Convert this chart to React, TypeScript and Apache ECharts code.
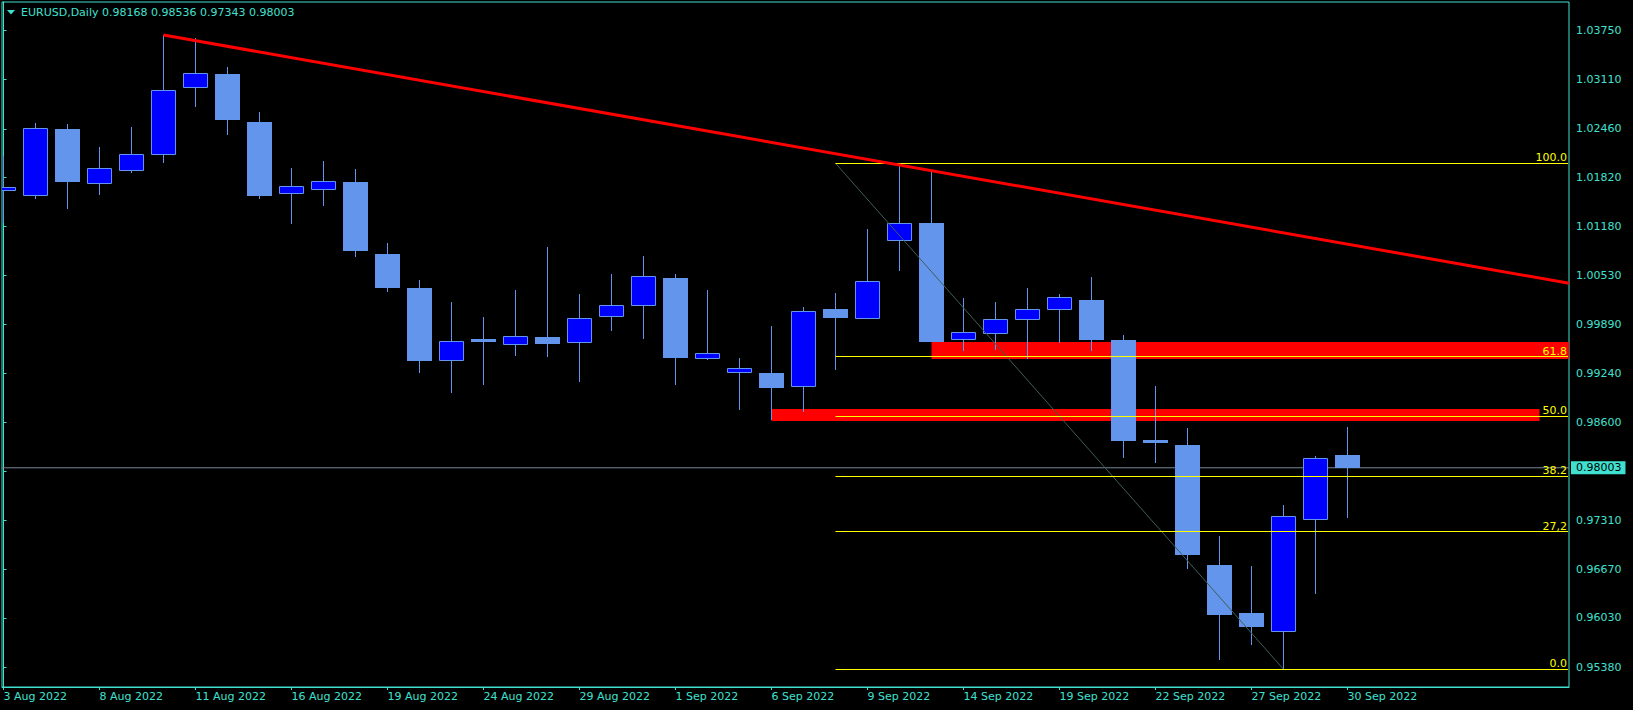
import React, { useEffect, useRef } from 'react';
import * as echarts from 'echarts';

// ---- data (one bar per trading day) ----
const dates = [
  '3 Aug', '4 Aug', '5 Aug', '8 Aug', '9 Aug', '10 Aug', '11 Aug', '12 Aug', '15 Aug', '16 Aug',
  '17 Aug', '18 Aug', '19 Aug', '22 Aug', '23 Aug', '24 Aug', '25 Aug', '26 Aug', '29 Aug', '30 Aug',
  '31 Aug', '1 Sep', '2 Sep', '5 Sep', '6 Sep', '7 Sep', '8 Sep', '9 Sep', '12 Sep', '13 Sep',
  '14 Sep', '15 Sep', '16 Sep', '19 Sep', '20 Sep', '21 Sep', '22 Sep', '23 Sep', '26 Sep', '27 Sep',
  '28 Sep', '29 Sep', '30 Sep',
];
const opens = [
  1.01646, 1.01581, 1.02458, 1.01738, 1.01909, 1.0212, 1.03001, 1.03181, 1.0255, 1.01599,
  1.01659, 1.01761, 1.00814, 1.00367, 0.99403, 0.99696, 0.99622, 0.99723, 0.99648, 0.99982,
  1.00134, 1.00498, 0.9943, 0.99253, 0.99249, 0.99061, 1.00091, 0.99956, 1.00981, 1.01222,
  0.99679, 0.99758, 0.99942, 1.00074, 1.00209, 0.99683, 0.98369, 0.98303, 0.96725, 0.96094,
  0.95848, 0.97313, 0.98168,
];
const highs = [
  1.02107, 1.02536, 1.02523, 1.02221, 1.02484, 1.03697, 1.0365, 1.03273, 1.02681, 1.01945,
  1.02037, 1.01932, 1.00959, 1.00472, 1.00183, 0.99986, 1.00341, 1.00906, 1.00288, 1.00551,
  1.00788, 1.00551, 1.00341, 0.99447, 0.99867, 1.00117, 1.00301, 1.01143, 1.01997, 1.01896,
  1.00232, 1.00183, 1.00367, 1.00288, 1.00512, 0.99749, 0.99079, 0.98526, 0.97106, 0.96712,
  0.97514, 0.98158, 0.98536,
];
const lows = [
  1.01226, 1.01537, 1.01406, 1.0159, 1.01883, 1.02015, 1.02751, 1.02383, 1.01537, 1.01212,
  1.01449, 1.00779, 1.00318, 0.99253, 0.9899, 0.99096, 0.99477, 0.99464, 0.99135, 0.99806,
  0.997, 0.99096, 0.9942, 0.98763, 0.98632, 0.98741, 0.99293, 0.99953, 1.00595, 0.99657,
  0.99543, 0.99556, 0.99438, 0.99648, 0.99543, 0.98128, 0.98066, 0.96676, 0.95476, 0.95677,
  0.95354, 0.96348, 0.97343,
];
const closes = [
  1.01691, 1.02471, 1.01761, 1.01941, 1.02125, 1.02966, 1.0319, 1.0258, 1.01581, 1.01708,
  1.01774, 1.00857, 1.00371, 0.99411, 0.99666, 0.99661, 0.99736, 0.99631, 0.99969, 1.0014,
  1.00521, 0.99447, 0.99509, 0.99311, 0.99056, 1.00061, 0.99977, 1.00455, 1.01218, 0.99661,
  0.99785, 0.99956, 1.00087, 1.00245, 0.99687, 0.98359, 0.98333, 0.9686, 0.96072, 0.95914,
  0.97365, 0.98128, 0.98003,
];
// tick marks on the price scale; the 0.97960 label sits under the current-price tag
const yTicks = [
  1.0375, 1.0311, 1.0246, 1.0182, 1.0118, 1.0053, 0.9989, 0.9924, 0.986, 0.9796, 0.9731,
  0.9667, 0.9603, 0.9538,
];
const yLabels = [
  1.0375, 1.0311, 1.0246, 1.0182, 1.0118, 1.0053, 0.9989, 0.9924, 0.986, 0.9731,
  0.9667, 0.9603, 0.9538,
];
const xTickBars = [0, 3, 6, 9, 12, 15, 18, 21, 24, 27, 30, 33, 36, 39, 42];
const fibLevels = [0, 27.2, 38.2, 50, 61.8, 100];
const fibLabels = ['0.0', '27,2', '38.2', '50.0', '61.8', '100.0'];
const fibAnchors = [[26, 1.02007], [40, 0.95354]];
const trendAnchors = [[5, 1.03693], [28, 1.01984]];
const zoneStarts = [29, 24];
const zoneEnds = [null, 48];
const zoneTops = [0.99657, 0.98776];
const zoneBottoms = [0.99434, 0.98618];

const SYMBOL = 'EURUSD,Daily';

// ---- view ----
const X_MIN = -0.047;
const X_MAX = 48.922;
const Y_MIN = 0.951209;
const Y_MAX = 1.041273;
const TURQ = '#40E0D0';
const FONT = 'DejaVu Sans';

export default function App() {
  const ref = useRef<HTMLDivElement>(null);

  useEffect(() => {
    if (!ref.current) return;
    const chart = echarts.init(ref.current, undefined, { renderer: 'svg' });

    const candleData = opens.map((o, i) => [i, o, closes[i], lows[i], highs[i]]);
    const last = closes.length - 1;
    const lastClose = closes[last];
    const fibLow = fibAnchors[1][1];
    const fibHigh = fibAnchors[0][1];
    const slope = (trendAnchors[1][1] - trendAnchors[0][1]) / (trendAnchors[1][0] - trendAnchors[0][0]);
    const trendEnd = trendAnchors[0][1] + slope * (X_MAX - trendAnchors[0][0]);

    const option: any = {
      animation: false,
      backgroundColor: '#000000',
      grid: {
        left: 2, top: 2, right: 64, bottom: 23,
        show: true, borderColor: TURQ, borderWidth: 1, backgroundColor: 'transparent',
      },
      xAxis: {
        type: 'value', min: X_MIN, max: X_MAX, position: 'bottom',
        axisLine: { show: true, lineStyle: { color: TURQ, width: 1 } },
        axisTick: { show: true, inside: false, length: 3, lineStyle: { color: TURQ }, customValues: xTickBars },
        axisLabel: {
          customValues: xTickBars,
          formatter: (v: number) => dates[Math.round(v)] + ' 2022',
          align: 'left', color: TURQ, fontFamily: FONT, fontSize: 11, margin: 4,
        },
        splitLine: { show: false },
      },
      yAxis: {
        type: 'value', min: Y_MIN, max: Y_MAX, position: 'right', scale: true,
        axisLine: { show: true, lineStyle: { color: TURQ, width: 1 } },
        axisTick: { show: true, inside: false, length: 3, lineStyle: { color: TURQ }, customValues: yTicks },
        axisLabel: {
          customValues: yLabels,
          formatter: (v: number) => v.toFixed(5),
          color: TURQ, fontFamily: FONT, fontSize: 11, margin: 7,
        },
        splitLine: { show: false },
      },
      graphic: [
        { type: 'polygon', shape: { points: [[7, 10], [15, 10], [11, 14.5]] }, style: { fill: TURQ } },
        { type: 'text', x: 21, y: 12, style: { text: SYMBOL, fill: TURQ, font: `11px "${FONT}"`, verticalAlign: 'middle' } },
        {
          type: 'text', x: 102, y: 12,
          style: {
            text: [opens[last], highs[last], lows[last], closes[last]].map((v) => v.toFixed(5)).join(' '),
            fill: TURQ, font: `11px "${FONT}"`, verticalAlign: 'middle',
          },
        },
      ],
      series: [
        {
          name: 'zones', type: 'line', data: [], z: 1, silent: true,
          markArea: {
            silent: true,
            itemStyle: { color: '#FF0000', opacity: 1 },
            data: zoneStarts.map((s, j) => [
              { coord: [s, zoneTops[j]] },
              { coord: [zoneEnds[j] === null ? X_MAX : zoneEnds[j], zoneBottoms[j]] },
            ]),
          },
        },
        {
          name: 'price', type: 'line', z: 2, silent: true, symbol: 'none',
          data: [[X_MIN, lastClose], [X_MAX, lastClose]],
          lineStyle: { color: '#778899', width: 1 },
          endLabel: {
            show: true, formatter: () => lastClose.toFixed(5),
            backgroundColor: TURQ, color: '#000000', fontFamily: FONT, fontSize: 11,
            padding: [1, 4, 1, 5], distance: 2,
          },
        },
        {
          name: 'candles', type: 'custom', z: 3, clip: true, silent: true,
          data: candleData,
          encode: { x: 0, y: [1, 2, 3, 4] },
          renderItem: (params: any, api: any) => {
            const i = api.value(0);
            const o = api.value(1);
            const c = api.value(2);
            const l = api.value(3);
            const h = api.value(4);
            const pO = api.coord([i, o]);
            const pC = api.coord([i, c]);
            const pH = api.coord([i, h]);
            const pL = api.coord([i, l]);
            const cx = Math.round(pO[0] - 0.5) + 0.5;
            const top = Math.round(Math.min(pO[1], pC[1]));
            const bot = Math.round(Math.max(pO[1], pC[1]));
            const hgt = Math.max(bot - top, 1);
            const bull = c > o;
            const body = bull
              ? {
                  type: 'rect',
                  shape: { x: cx - 12, y: top + 0.5, width: 24, height: Math.max(hgt - 1, 1) },
                  style: { fill: '#0000FF', stroke: '#6495ED', lineWidth: 1 },
                }
              : {
                  type: 'rect',
                  shape: { x: cx - 12.5, y: top, width: 25, height: hgt },
                  style: { fill: '#6495ED' },
                };
            return {
              type: 'group',
              children: [
                {
                  type: 'line',
                  shape: { x1: cx, y1: Math.round(pH[1]), x2: cx, y2: Math.round(pL[1]) },
                  style: { stroke: '#6495ED', lineWidth: 1 },
                },
                body,
              ],
            };
          },
        },
        {
          name: 'fibo', type: 'line', z: 4, silent: true, symbol: 'none',
          data: fibAnchors,
          lineStyle: { color: '#3E5E56', width: 1 },
          markLine: {
            silent: true, symbol: ['none', 'none'],
            lineStyle: { color: '#FFFF00', width: 1, type: 'solid' },
            label: {
              show: true, position: 'insideEndTop', formatter: '{b}',
              color: '#FFFF00', fontFamily: FONT, fontSize: 11, distance: [1, 0],
            },
            data: fibLevels.map((p, j) => {
              const v = fibLow + ((fibHigh - fibLow) * p) / 100;
              return [
                { name: fibLabels[j], coord: [fibAnchors[0][0], v] },
                { coord: [X_MAX - 0.03, v] },
              ];
            }),
          },
        },
        {
          name: 'trend', type: 'line', z: 5, silent: true, symbol: 'none',
          data: [trendAnchors[0], [X_MAX, trendEnd]],
          lineStyle: { color: '#FF0000', width: 3 },
        },
      ],
    };

    chart.setOption(option);
    return () => chart.dispose();
  }, []);

  return (
    <div
      ref={ref}
      style={{ position: 'fixed', left: 0, top: 0, width: 1633, height: 710, background: '#000' }}
    />
  );
}
